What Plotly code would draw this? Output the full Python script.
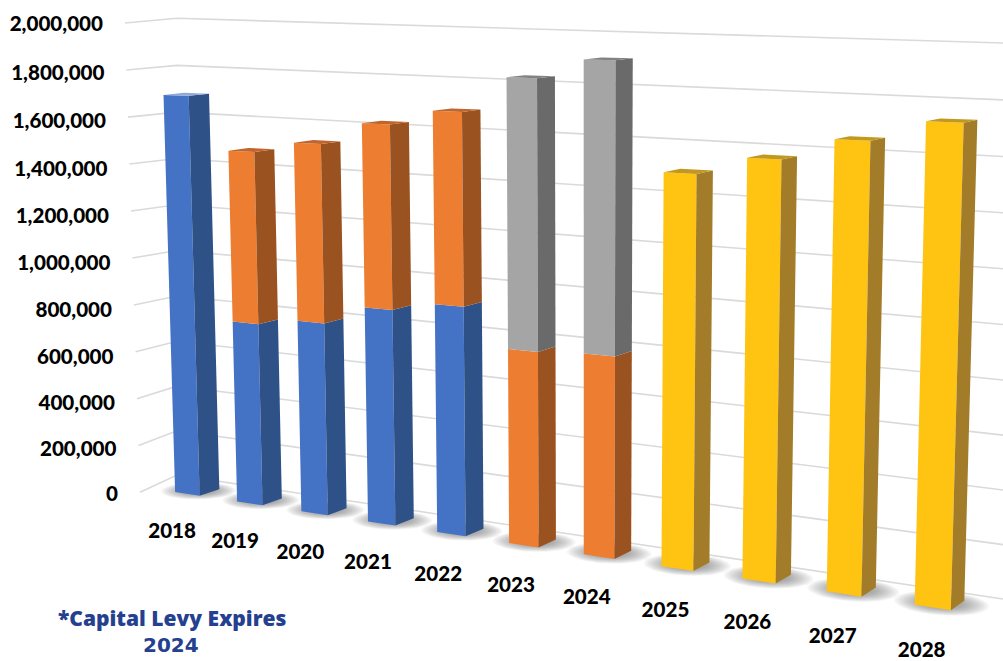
import numpy as np
import plotly.graph_objects as go

# ---- data ----
years = ["2018","2019","2020","2021","2022","2023","2024","2025","2026","2027","2028"]
blue   = [1668000, 754000, 784000, 864000, 902000, 0, 0, 0, 0, 0, 0]
orange = [0, 699000, 714000, 723000, 744000, 756000, 768000, 0, 0, 0, 0]
gray   = [0, 0, 0, 0, 0, 1025000, 1086000, 0, 0, 0, 0]
yellow = [0, 0, 0, 0, 0, 0, 0, 1458000, 1524000, 1602000, 1675000]
tick_values = [0,200000,400000,600000,800000,1000000,1200000,1400000,1600000,1800000,2000000]
tick_labels = ["0","200,000","400,000","600,000","800,000","1,000,000","1,200,000","1,400,000","1,600,000","1,800,000","2,000,000"]

# ---- styles: front, side, top ----
C_BLUE = ("#4472C4", "#2E5288", "#8FA9D8")
C_ORANGE = ("#ED7D31", "#9A5220", "#C2652A")
C_GRAY = ("#A5A5A5", "#6A6A6A", "#828282")
C_YELLOW = ("#FFC312", "#A37C2A", "#C2981F")
W = 0.40

# ---- camera: calibrated 3-D projection (X=category, Y=value in M, Z=depth) ----
world = [
 (0,0,0),(0,1.668,0),(W,0,0),(W,1.668,0),(W,0,1),(W,1.668,1),
 (5,0,0),(5,1.781,0),(5+W,0,0),(5+W,1.781,0),(5+W,0,1),(5+W,1.781,1),
 (10,0,0),(10,1.675,0),(10+W,0,0),(10+W,1.675,0),(10+W,0,1),(10+W,1.675,1),(10,1.675,1),
 (1,0,0),(2,0,0),(3,0,0),(4,0,0),(6,0,0),(7,0,0),(8,0,0),(9,0,0)]
image = [
 (174,490.7),(162.3,96.7),(198.3,494),(187.7,97.7),(219,487.7),(208.3,95.7),
 (510.3,543.3),(508,77.3),(540,547.7),(539,78),(557.3,540),(556.7,76),
 (913,605),(925.3,119.3),(949,611.7),(962.7,121.3),(963,602.7),(976.3,118.7),(940.3,116.7),
 (236,500),(301.7,510.7),(369,521),(438.3,531.7),(585.3,555.7),(662.3,566.7),(743,578.7),(826.3,592.7)]
A, b = [], []
for (X,Y,Z),(u,v) in zip(world,image):
    A.append([X,Y,Z,1,0,0,0,0,-u*X,-u*Y,-u*Z]); b.append(u)
    A.append([0,0,0,0,X,Y,Z,1,-v*X,-v*Y,-v*Z]); b.append(v)
p = np.linalg.lstsq(np.array(A,float),np.array(b,float),rcond=None)[0]
P = np.append(p,1).reshape(3,4)
def proj(X,Y,Z):
    q = P @ np.array([X,Y/1e6,Z,1.0])
    return q[0]/q[2], q[1]/q[2]

fig = go.Figure()
def poly(pts,color,opacity=None):
    xs=[a for a,_ in pts]+[pts[0][0]]; ys=[c for _,c in pts]+[pts[0][1]]
    fig.add_trace(go.Scatter(x=xs,y=ys,mode="lines",fill="toself",fillcolor=color,
        line=dict(width=0,color=color),opacity=opacity,hoverinfo="skip",showlegend=False))

# wall: gridlines, three edges
def edge(v,y0,ym,y1):
    t=v/2e6
    return y0*(1-t)*(1-2*t)+ym*4*t*(1-t)+y1*t*(2*t-1)
GX,GY=[],[]
for v in tick_values:
    t=v/2e6
    GX+=[140-15*t,177,1003,None]
    GY+=[edge(v,492.3,258,23),edge(v,475,250.5,18.3),edge(v,599,324.5,43),None]
fig.add_trace(go.Scatter(x=GX,y=GY,mode="lines",line=dict(color="#DADADA",width=1.6),
    hoverinfo="skip",showlegend=False))

# soft floor shadows
th=np.linspace(0,2*np.pi,40)
for i in range(len(years)):
    cx,cz=i+W/2+0.02,0.5
    for sc in np.arange(1.0,0.4,-0.05):
        pts=[proj(cx+(W/2+0.30)*sc*np.cos(a),0,cz+1.1*sc*np.sin(a)) for a in th]
        poly(pts,"#606060",0.055)

# bars
def bar(i,v0,v1,col,top):
    a,b=i,i+W
    poly([proj(a,v0,0),proj(b,v0,0),proj(b,v1,0),proj(a,v1,0)],col[0])
    poly([proj(b,v0,0),proj(b,v0,1),proj(b,v1,1),proj(b,v1,0)],col[1])
    if top:
        poly([proj(a,v1,0),proj(b,v1,0),proj(b,v1,1),proj(a,v1,1)],col[2])
for i in range(len(years)):
    base=0
    stack=[(blue[i],C_BLUE),(orange[i],C_ORANGE),(gray[i],C_GRAY),(yellow[i],C_YELLOW)]
    stack=[s for s in stack if s[0]>0]
    for k,(val,col) in enumerate(stack):
        bar(i,base,base+val,col,k==len(stack)-1)
        base+=val

# value labels
fig.add_trace(go.Scatter(
    x=[118-15*v/2e6 for v in tick_values],
    y=[edge(v,496,265,26) for v in tick_values],
    text=tick_labels,mode="text",textposition="middle left",
    textfont=dict(family="Lato",size=20.6,color="#000000",weight=900),
    hoverinfo="skip",showlegend=False))
# category labels
cx,cy=[],[]
for i in range(len(years)):
    x,y=proj(i,0,0)
    cx.append(x-3+1.0*i); cy.append(y+41+0.6*i)
fig.add_trace(go.Scatter(x=cx,y=cy,text=years,mode="text",textposition="middle center",
    textfont=dict(family="Lato",size=20.6,color="#000000",weight=900),
    hoverinfo="skip",showlegend=False))

fig.add_annotation(x=172,y=618,xref="x",yref="y",text="*Capital Levy Expires",showarrow=False,
    font=dict(family="Open Sans",size=21,color="#24408E",weight=800))
fig.add_annotation(x=171,y=645,xref="x",yref="y",text="2024",showarrow=False,
    font=dict(family="DejaVu Sans",size=20,color="#24408E",weight=700))

fig.update_layout(width=1003,height=661,margin=dict(l=0,r=0,t=0,b=0),
    paper_bgcolor="white",plot_bgcolor="white",showlegend=False,
    xaxis=dict(range=[0,1003],visible=False,fixedrange=True),
    yaxis=dict(range=[661,0],visible=False,fixedrange=True))
fig.write_html("out.html",post_script="document.body.style.margin='0';document.body.style.overflow='hidden';",config=dict(displayModeBar=False))
